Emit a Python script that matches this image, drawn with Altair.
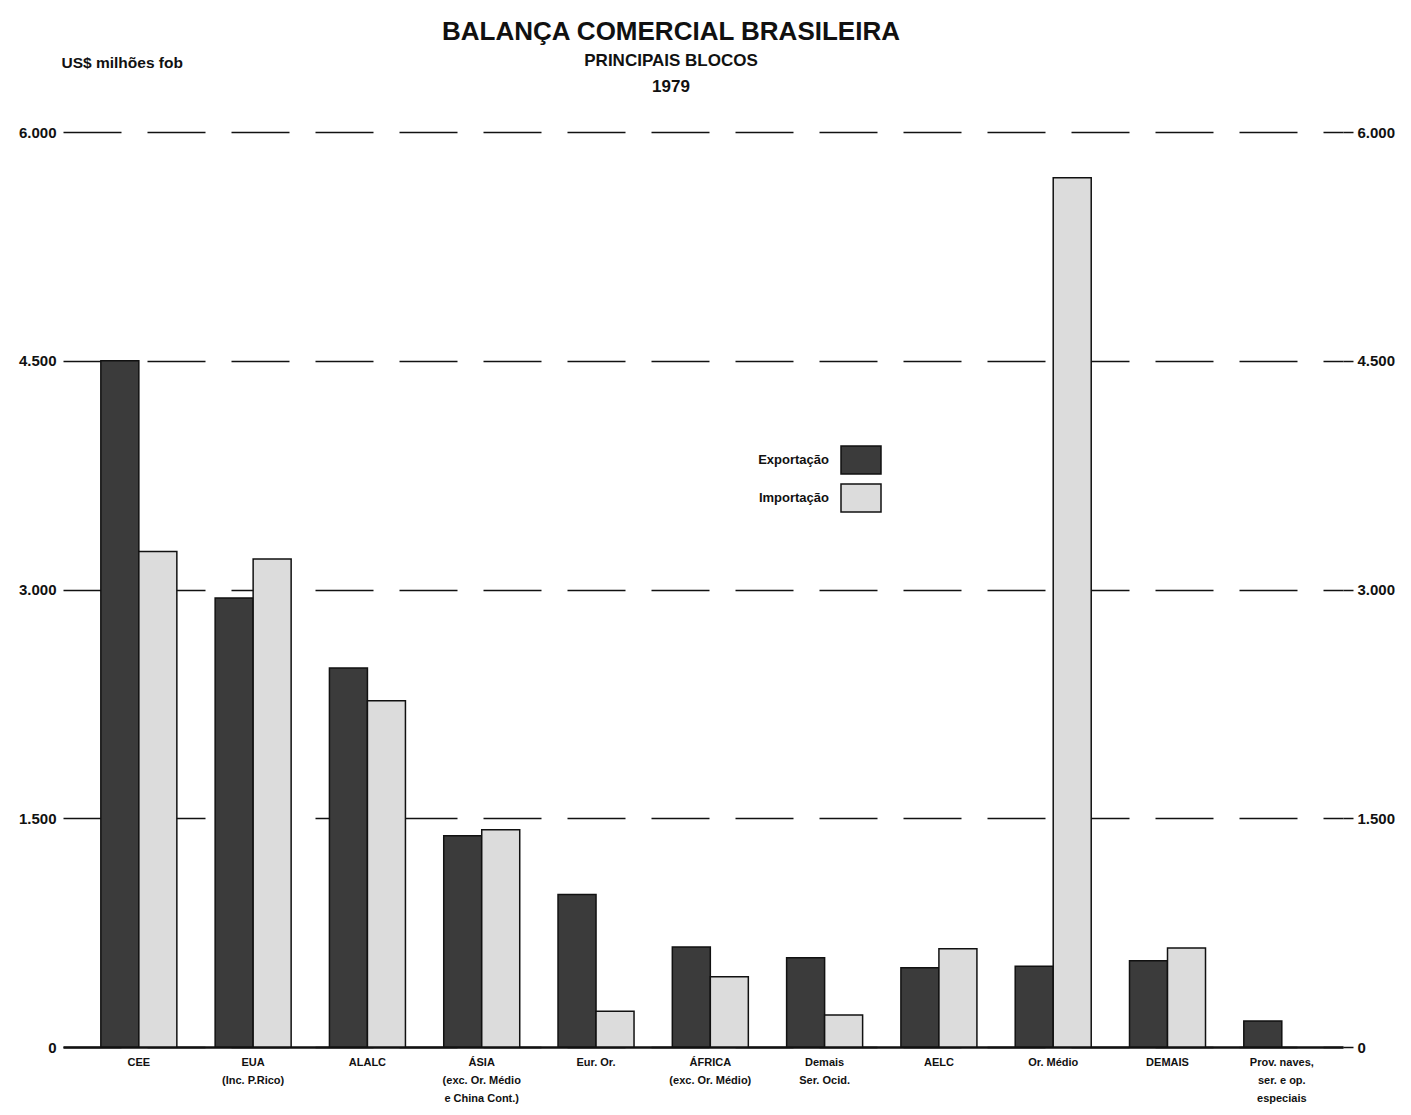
import altair as alt
import pandas as pd

# ---- data (US$ milhões fob, 1979) ----
categories = [
    "CEE",
    "EUA|(Inc. P.Rico)",
    "ALALC",
    "ÁSIA|(exc. Or. Médio|e China Cont.)",
    "Eur. Or.",
    "ÁFRICA|(exc. Or. Médio)",
    "Demais|Ser. Ocid.",
    "AELC",
    "Or. Médio",
    "DEMAIS",
    "Prov. naves,|ser. e op.|especiais",
]
series = ["Exportação", "Importação"]
exportacao = [4500, 2945, 2485, 1385, 1000, 655, 585, 520, 530, 565, 170]
importacao = [3250, 3200, 2270, 1425, 235, 460, 210, 645, 5700, 650, None]
y_ticks = [0, 1500, 3000, 4500, 6000]

rows = []
for cat, ex, im in zip(categories, exportacao, importacao):
    if ex is not None:
        rows.append({"bloco": cat, "serie": series[0], "valor": ex})
    if im is not None:
        rows.append({"bloco": cat, "serie": series[1], "valor": im})
df = pd.DataFrame(rows)

FONT = "Liberation Sans"
label_expr = "datum.value == 0 ? '0' : replace(format(datum.value, ','), ',', '.')"

x_enc = alt.X(
    "bloco:N",
    sort=categories,
    scale=alt.Scale(paddingInner=0.335, paddingOuter=0.267, align=0.62),
    axis=alt.Axis(
        title=None,
        labelExpr="split(datum.label, '|')",
        labelAngle=0,
        labelFont=FONT,
        labelFontSize=11,
        labelFontWeight="bold",
        labelColor="#111",
        labelLineHeight=18,
        labelPadding=9,
        labelBaseline="top",
        ticks=False,
        grid=False,
        domainColor="#111",
        domainWidth=2.5,
    ),
)
xoff_enc = alt.XOffset("serie:N", sort=series, scale=alt.Scale(paddingInner=0, paddingOuter=0))

bars = alt.Chart(df).mark_bar(stroke="#111", strokeWidth=1.5).encode(
    x=x_enc,
    xOffset=xoff_enc,
    y=alt.Y(
        "valor:Q",
        scale=alt.Scale(domain=[0, 6000], nice=False, zero=True),
        axis=alt.Axis(
            values=y_ticks,
            labelExpr=label_expr,
            orient="left",
            title="US$ milhões fob",
            titleAngle=0,
            titleX=-2,
            titleY=-70,
            titleAlign="left",
            titleBaseline="middle",
            titleFont=FONT,
            titleFontSize=15.5,
            titleFontWeight="bold",
            titleColor="#111",
            labelFont=FONT,
            labelFontSize=15,
            labelFontWeight="bold",
            labelColor="#111",
            labelPadding=7,
            ticks=False,
            domain=False,
            grid=True,
            gridColor="#111",
            gridWidth=1.5,
            gridDash=[58, 26],
        ),
    ),
    color=alt.Color(
        "serie:N",
        sort=series,
        scale=alt.Scale(domain=series, range=["#3b3b3b", "#dcdcdc"]),
        legend=alt.Legend(
            title=None,
            orient="none",
            legendX=777,
            legendY=307,
            symbolType="M-1,-0.7H1V0.7H-1Z",
            symbolSize=1600,
            symbolStrokeColor="#111",
            symbolStrokeWidth=1.5,
            symbolOpacity=1,
            labelAlign="right",
            labelOffset={"expr": "-53"},
            labelFont=FONT,
            labelFontSize=13,
            labelFontWeight="bold",
            labelColor="#111",
            rowPadding=-2,
            padding=0,
        ),
    ),
)

right_axis = alt.Chart(df).mark_bar(opacity=0).encode(
    x=x_enc,
    xOffset=xoff_enc,
    y=alt.Y(
        "valor:Q",
        scale=alt.Scale(domain=[0, 6000], nice=False, zero=True),
        axis=alt.Axis(
            values=y_ticks,
            labelExpr=label_expr,
            orient="right",
            title=None,
            labelFont=FONT,
            labelFontSize=15,
            labelFontWeight="bold",
            labelColor="#111",
            labelPadding=4,
            tickSize=10,
            tickColor="#111",
            tickWidth=1.5,
            domain=False,
            grid=False,
        ),
    ),
)

chart = (
    alt.layer(bars, right_axis)
    .resolve_scale(y="independent")
    .resolve_axis(y="independent")
    .properties(
        width=1280,
        height=915,
        padding={"left": 55, "top": 124, "right": 60, "bottom": 60},
        autosize=alt.AutoSizeParams(type="none"),
        view=alt.ViewBackground(stroke="transparent", strokeWidth=0),
        title=alt.TitleParams(
            text="BALANÇA COMERCIAL BRASILEIRA",
            subtitle=["PRINCIPAIS BLOCOS", "1979"],
            anchor="middle",
            dx=-32,
            offset={"expr": "-40"},
            font=FONT,
            fontSize=26,
            fontWeight="bold",
            color="#111",
            subtitleFont=FONT,
            subtitleFontSize=17,
            subtitleFontWeight="bold",
            subtitleColor="#111",
            subtitleLineHeight=26,
            subtitlePadding=8,
        ),
    )
    .configure_view(stroke="transparent", strokeWidth=0)
    .configure(background="white")
)

chart.save("out.html", embed_options={"renderer": "svg", "actions": False})
